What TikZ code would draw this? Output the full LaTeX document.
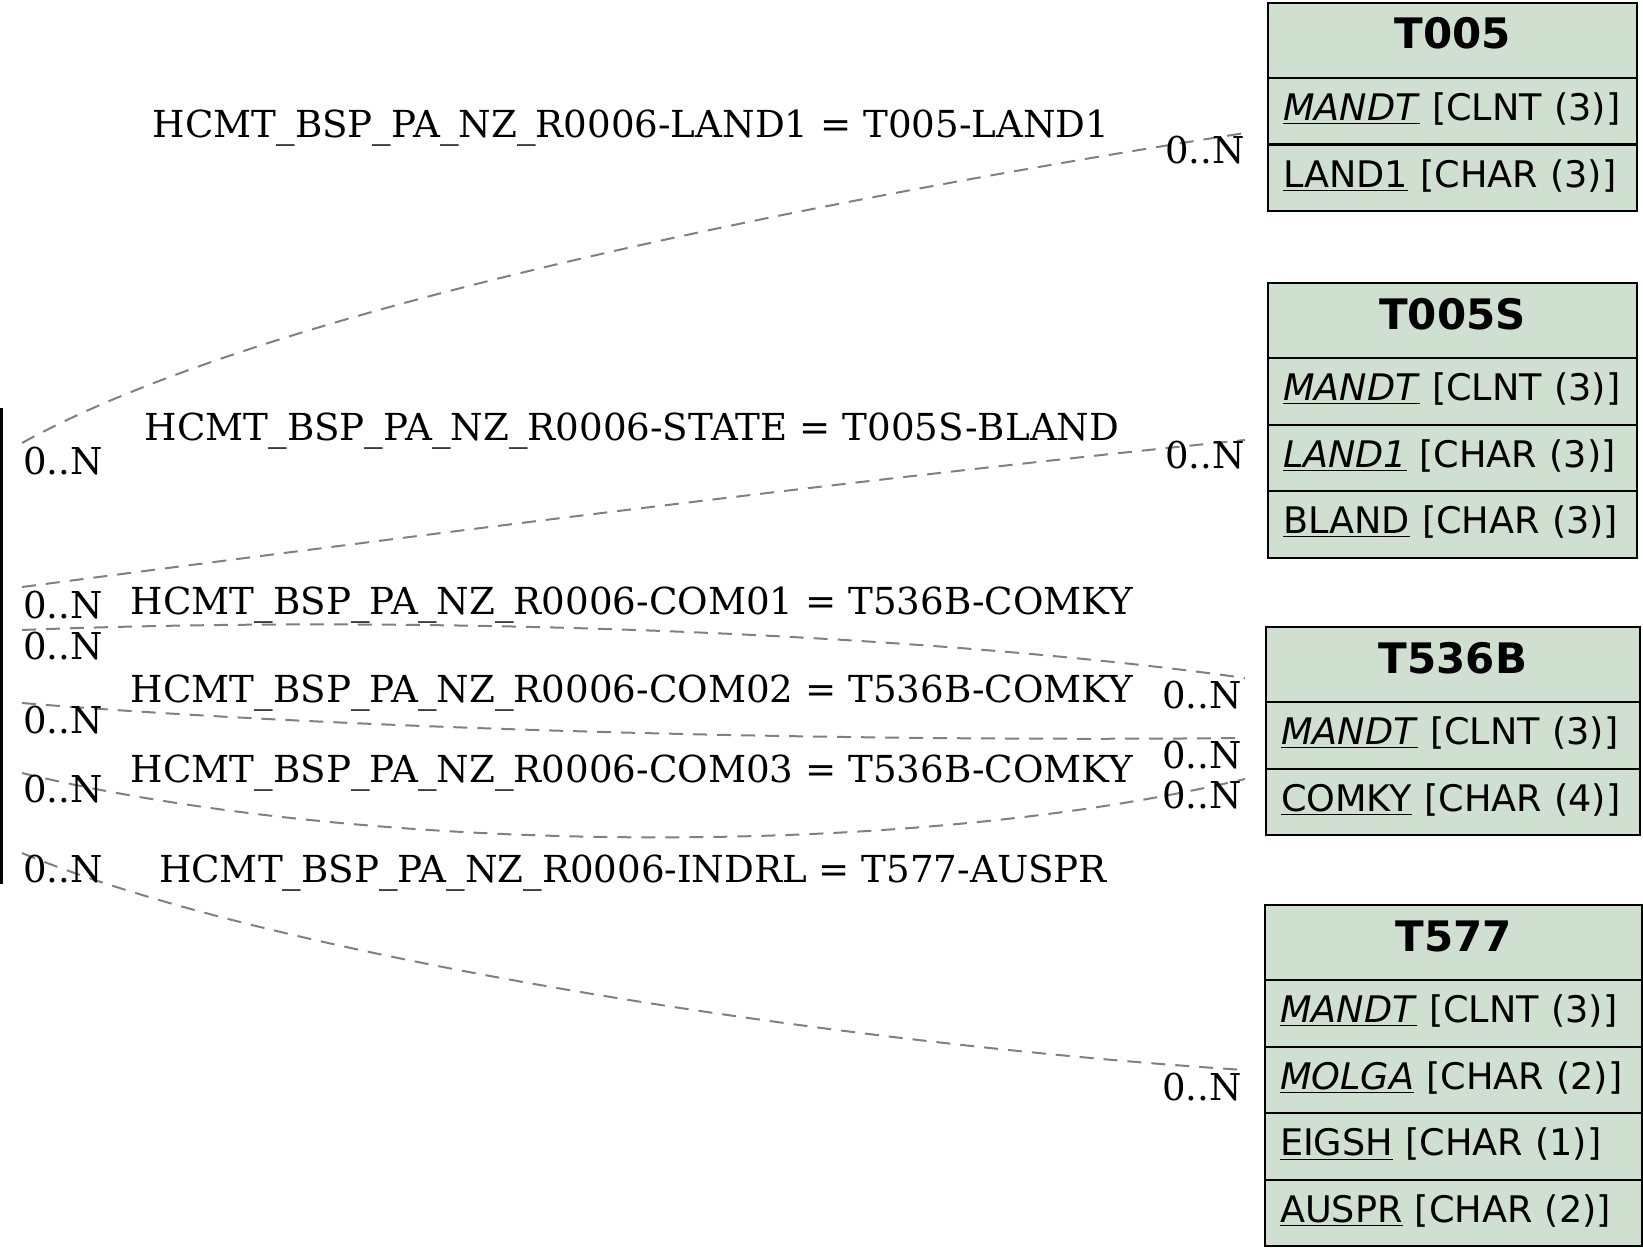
\documentclass[tikz,border=0pt]{standalone}
\usepackage{fontspec}
\setmainfont{DejaVu Serif}
\setsansfont{DejaVu Sans}
\usetikzlibrary{positioning}
\definecolor{tabgreen}{HTML}{D0E0D0}
\def\headh{37.5pt}
\def\rowh{33.25pt}

\begin{document}
\begin{tikzpicture}[x=0.5pt, y=-0.5pt, node distance=0pt]
    \tikzstyle{tab head}=[draw=black, line width=1pt, fill=tabgreen, outer sep=0pt, inner sep=0pt, minimum height=\headh, text height=15.5pt, text depth=7pt, font=\sffamily\bfseries\fontsize{21}{25}\selectfont]
    \tikzstyle{tab row}=[draw=black, line width=1pt, fill=tabgreen, outer sep=0pt, inner xsep=7.5pt, inner ysep=0pt, minimum height=\rowh, text height=13.5pt, text depth=3.9pt, align=left, font=\sffamily\fontsize{18.3}{22}\selectfont]
    \tikzstyle{rel}=[draw=black!50, line width=1pt, dash pattern=on 7pt off 5pt]
    \tikzstyle{card}=[anchor=base west, inner sep=0pt, font=\fontsize{18.5}{22}\selectfont]
    \tikzstyle{cond}=[anchor=base, inner sep=0pt, font=\fontsize{18.6}{22}\selectfont]

    \useasboundingbox (0,0) rectangle (1643,1247);

    % the cut-off source table
    \coordinate (src-top) at (1.3,408);
    \coordinate (src-bot) at (1.3,884);
    \draw[line width=1.3pt] (src-top) -- (src-bot);

    % T005
    \node[tab head, minimum width=184.5pt, anchor=north west] (T005) at (1268,3) {T005};
    \node[tab row, text width=169.5pt, below=of T005] (T005-1) {\underline{\textit{MANDT}} [CLNT (3)]};
    \node[tab row, text width=169.5pt, below=of T005-1] (T005-2) {\underline{LAND1} [CHAR (3)]};

    % T005S
    \node[tab head, minimum width=184.5pt, anchor=north west] (T005S) at (1268,283) {T005S};
    \node[tab row, text width=169.5pt, below=of T005S] (T005S-1) {\underline{\textit{MANDT}} [CLNT (3)]};
    \node[tab row, text width=169.5pt, below=of T005S-1] (T005S-2) {\underline{\textit{LAND1}} [CHAR (3)]};
    \node[tab row, text width=169.5pt, below=of T005S-2] (T005S-3) {\underline{BLAND} [CHAR (3)]};

    % T536B
    \node[tab head, minimum width=187pt, anchor=north west] (T536B) at (1266,627) {T536B};
    \node[tab row, text width=172pt, below=of T536B] (T536B-1) {\underline{\textit{MANDT}} [CLNT (3)]};
    \node[tab row, text width=172pt, below=of T536B-1] (T536B-2) {\underline{COMKY} [CHAR (4)]};

    % T577
    \node[tab head, minimum width=188.5pt, anchor=north west] (T577) at (1265,905) {T577};
    \node[tab row, text width=173.5pt, below=of T577] (T577-1) {\underline{\textit{MANDT}} [CLNT (3)]};
    \node[tab row, text width=173.5pt, below=of T577-1] (T577-2) {\underline{\textit{MOLGA}} [CHAR (2)]};
    \node[tab row, text width=173.5pt, below=of T577-2] (T577-3) {\underline{EIGSH} [CHAR (1)]};
    \node[tab row, text width=173.5pt, below=of T577-3] (T577-4) {\underline{AUSPR} [CHAR (2)]};

    % edge ends
    \coordinate (s1) at (22,443);  \coordinate (e1) at (1245,133);
    \coordinate (s2) at (22,587);  \coordinate (e2) at (1245,440);
    \coordinate (s3) at (22,630);  \coordinate (e3) at (1245,678);
    \coordinate (s4) at (22,703);  \coordinate (e4) at (1245,738);
    \coordinate (s5) at (22,773);  \coordinate (e5) at (1245,779);
    \coordinate (s6) at (22,853);  \coordinate (e6) at (1245,1070);

    \draw[rel] (s1) .. controls (280,300) and (880,190) .. (e1);
    \draw[rel] (s2) .. controls (420,535) and (850,480) .. (e2);
    \draw[rel] (s3) .. controls (400,615) and (900,630) .. (e3);
    \draw[rel] (s4) .. controls (350,730) and (850,742) .. (e4);
    \draw[rel] (s5) .. controls (340,850) and (880,865) .. (e5);
    \draw[rel] (s6) .. controls (280,960) and (850,1045) .. (e6);

    % join conditions
    \node[cond] (l1) at (631,138) {HCMT\_BSP\_PA\_NZ\_R0006-LAND1 = T005-LAND1};
    \node[cond] (l2) at (632,440) {HCMT\_BSP\_PA\_NZ\_R0006-STATE = T005S-BLAND};
    \node[cond] (l3) at (632,614) {HCMT\_BSP\_PA\_NZ\_R0006-COM01 = T536B-COMKY};
    \node[cond] (l4) at (632,702) {HCMT\_BSP\_PA\_NZ\_R0006-COM02 = T536B-COMKY};
    \node[cond] (l5) at (632,782) {HCMT\_BSP\_PA\_NZ\_R0006-COM03 = T536B-COMKY};
    \node[cond] (l6) at (633,882) {HCMT\_BSP\_PA\_NZ\_R0006-INDRL = T577-AUSPR};

    % cardinalities
    \node[card] (c1a) at (23,474) {0..N};
    \node[card] (c2a) at (23,618) {0..N};
    \node[card] (c3a) at (23,659) {0..N};
    \node[card] (c4a) at (23,733) {0..N};
    \node[card] (c5a) at (23,802) {0..N};
    \node[card] (c6a) at (23,882) {0..N};
    \node[card] (c1b) at (1165,163) {0..N};
    \node[card] (c2b) at (1165,468) {0..N};
    \node[card] (c3b) at (1162,708) {0..N};
    \node[card] (c4b) at (1162,768) {0..N};
    \node[card] (c5b) at (1162,808) {0..N};
    \node[card] (c6b) at (1162,1100) {0..N};
\end{tikzpicture}
\end{document}
